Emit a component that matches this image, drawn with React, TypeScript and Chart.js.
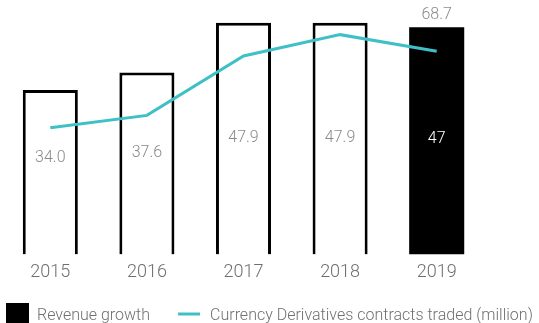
import React, { useEffect, useRef } from 'react';
import { Chart, registerables } from 'chart.js';

Chart.register(...registerables);

const categories = ['2015', '2016', '2017', '2018', '2019'];
const revenueValues = [34.0, 37.6, 47.9, 47.9, 47];
const revenueLabels = ['34.0', '37.6', '47.9', '47.9', '47'];
const contractsValues = [42.8, 47.0, 67.1, 74.3, 68.7];
const contractsTopLabel = '68.7';
const legendRevenue = 'Revenue growth';
const legendContracts = 'Currency Derivatives contracts traded (million)';

const TEAL = '#3fc0c6';
const FONT = 'Roboto';

const labelPlugin = {
  id: 'barLabels',
  afterDatasetsDraw(chart: any) {
    const ctx = chart.ctx;
    const meta = chart.getDatasetMeta(1);
    ctx.save();
    ctx.font = `300 16px ${FONT}`;
    ctx.textAlign = 'center';
    ctx.textBaseline = 'middle';
    meta.data.forEach((bar: any, i: number) => {
      const { x, y, base } = bar.getProps(['x', 'y', 'base'], true);
      const ly = base * 0.5 + y * 0.3 + 4;
      const last = i === meta.data.length - 1;
      ctx.fillStyle = last ? '#ffffff' : '#8a8a8a';
      ctx.fillText(revenueLabels[i], x, ly);
      if (last) {
        ctx.fillStyle = '#8a8a8a';
        ctx.fillText(contractsTopLabel, x, y - 12);
      }
    });
    ctx.restore();
  },
};

const legendPlugin = {
  id: 'customLegend',
  afterDraw(chart: any) {
    const ctx = chart.ctx;
    const h = chart.height;
    ctx.save();
    ctx.fillStyle = '#000';
    ctx.fillRect(6, h - 20, 23, 20);
    ctx.font = `300 16px ${FONT}`;
    ctx.textAlign = 'left';
    ctx.textBaseline = 'alphabetic';
    ctx.fillStyle = '#707070';
    const tx = 37;
    ctx.fillText(legendRevenue, tx, h - 3);
    const w = ctx.measureText(legendRevenue).width;
    const lx = tx + w + 28;
    ctx.strokeStyle = TEAL;
    ctx.lineWidth = 3;
    ctx.beginPath();
    ctx.moveTo(lx, h - 9);
    ctx.lineTo(lx + 22, h - 9);
    ctx.stroke();
    ctx.fillText(legendContracts, lx + 32, h - 3);
    ctx.restore();
  },
};

export default function App() {
  const ref = useRef<HTMLCanvasElement | null>(null);
  useEffect(() => {
    document.body.style.margin = '0';
    if (!ref.current) return;
    const chart = new Chart(ref.current, {
      type: 'bar',
      data: {
        labels: categories,
        datasets: [
          {
            type: 'line',
            label: legendContracts,
            data: contractsValues,
            yAxisID: 'y2',
            borderColor: TEAL,
            borderWidth: 3,
            pointRadius: 0,
            tension: 0,
            fill: false,
            order: 0,
          } as any,
          {
            type: 'bar',
            label: legendRevenue,
            data: revenueValues,
            yAxisID: 'y',
            backgroundColor: ['#ffffff', '#ffffff', '#ffffff', '#ffffff', '#000000'],
            borderColor: '#000000',
            borderWidth: [3, 3, 3, 3, 0],
            categoryPercentage: 1,
            barPercentage: 0.57,
            order: 1,
          } as any,
        ],
      },
      options: {
        animation: false,
        responsive: true,
        maintainAspectRatio: false,
        layout: { padding: { left: 2, right: 54, top: 3, bottom: 33 } },
        plugins: { legend: { display: false }, tooltip: { enabled: false } },
        scales: {
          x: {
            grid: { display: false, drawTicks: false },
            border: { display: false },
            ticks: { color: '#6f6f6f', font: { family: FONT, size: 18, weight: 300 as any }, padding: 7 },
          },
          y: { display: false, min: 0, max: 52 },
          y2: { display: false, min: 0, max: 85, position: 'right' },
        },
      },
      plugins: [labelPlugin, legendPlugin],
    });
    return () => chart.destroy();
  }, []);
  return (
    <div style={{ position: 'relative', width: 539, height: 323 }}>
      <canvas ref={ref} />
    </div>
  );
}
